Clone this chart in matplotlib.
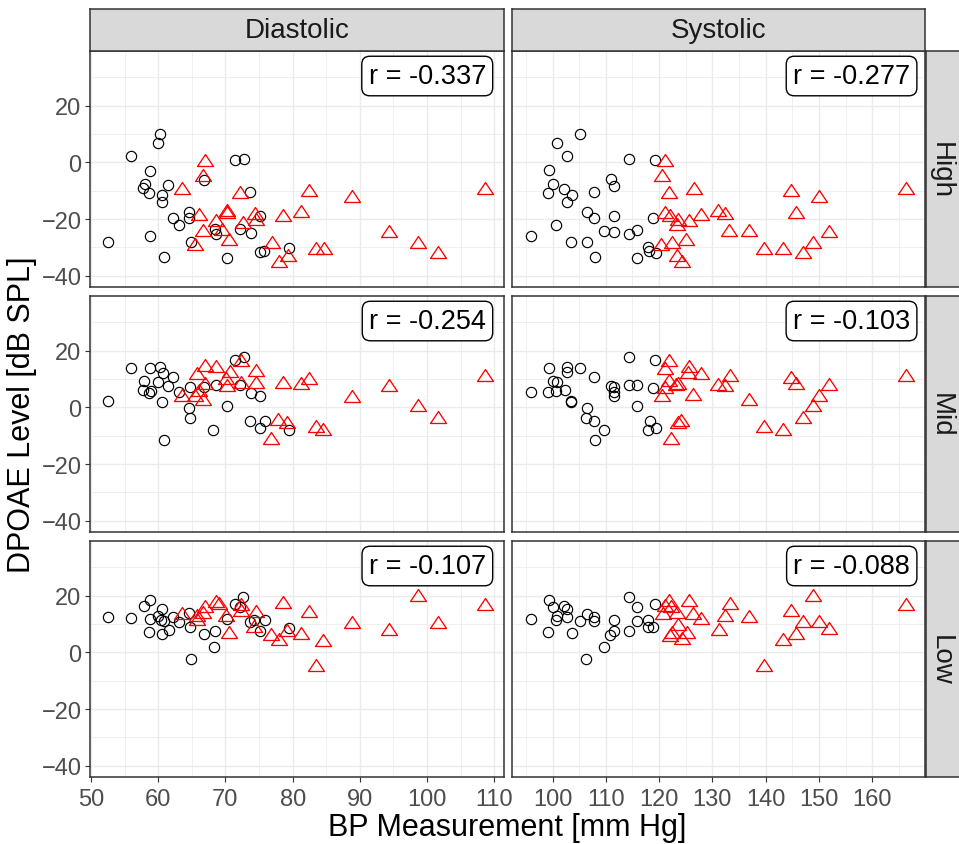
import matplotlib
matplotlib.use('Agg')
import matplotlib.pyplot as plt
from matplotlib.ticker import MultipleLocator
from matplotlib.path import Path

plt.rcParams['font.family'] = ['Liberation Sans', 'DejaVu Sans']

# ---------------- data ----------------
columns = ['Diastolic', 'Systolic']
rows = ['High', 'Mid', 'Low']
r_diastolic = [-0.337, -0.254, -0.107]
r_systolic = [-0.277, -0.103, -0.088]

# Diastolic / High
dia_high_norm_x = [52.5, 55.9, 60.2, 59.9, 58.8, 58.0, 57.8, 58.7, 61.5, 60.6, 60.6, 58.8, 60.9, 62.2, 63.1,
                   64.6, 64.6, 64.9, 66.8, 71.5, 72.7, 73.6, 75.1, 72.2, 73.8, 68.4, 68.6, 70.3, 75.1, 75.8, 79.5]
dia_high_norm_y = [-28.2, 2.1, 9.9, 6.7, -3.1, -7.6, -9.2, -10.8, -8.0, -11.5, -14.1, -25.9, -33.5, -19.6, -22.0,
                   -17.4, -19.8, -28.2, -6.2, 0.8, 1.2, -10.4, -18.8, -23.5, -24.9, -23.5, -25.3, -33.9, -31.8, -31.2, -30.1]
dia_high_hyp_x = [66.9, 66.6, 63.5, 72.2, 82.4, 88.9, 108.6, 66.0, 70.2, 70.2, 68.6, 66.6, 65.5, 70.6, 72.6,
                  74.4, 74.6, 78.6, 81.2, 77.0, 78.0, 79.3, 83.5, 84.7, 94.3, 98.6, 101.6, 69.5]
dia_high_hyp_y = [0.0, -5.3, -9.8, -11.2, -10.6, -12.6, -9.8, -19.1, -17.6, -18.4, -20.9, -24.5, -29.6, -27.6, -21.8,
                  -18.5, -20.6, -19.4, -17.9, -28.8, -35.6, -33.5, -30.9, -30.9, -25.1, -28.8, -32.4, -24.1]

# Systolic / High
sys_high_norm_x = [95.9, 100.8, 105.2, 102.8, 99.3, 100.0, 99.1, 102.2, 103.6, 102.8, 100.7, 103.4, 106.4, 108.0, 106.4, 107.8,
                   107.8, 110.9, 111.6, 111.6, 109.6, 111.6, 114.4, 115.9, 114.3, 119.3, 118.9, 115.8, 117.9, 118.2, 119.4]
sys_high_norm_y = [-25.9, 6.7, 9.9, 2.1, -2.7, -7.6, -10.8, -9.4, -11.5, -14.1, -22.0, -28.2, -28.2, -33.5, -17.6, -19.8,
                   -10.4, -5.9, -8.2, -18.8, -24.1, -24.7, -25.3, -23.8, 1.2, 0.8, -19.8, -33.9, -30.0, -31.4, -32.0]
sys_high_hyp_x = [121.1, 120.5, 121.9, 126.6, 121.1, 122.1, 123.6, 123.3, 125.7, 127.9, 131.0, 132.3, 133.2, 136.8,
                  125.1, 122.4, 120.4, 123.3, 124.3, 139.7, 143.3, 147.1, 148.9, 151.9, 144.7, 150.0, 145.6, 166.3]
sys_high_hyp_y = [0.0, -5.1, -11.2, -9.8, -18.2, -19.4, -20.6, -22.4, -20.9, -18.8, -17.6, -18.5, -24.5, -24.5,
                  -27.6, -28.8, -29.4, -33.5, -35.6, -30.9, -30.9, -32.4, -28.8, -25.1, -10.6, -12.6, -18.2, -9.8]

# Diastolic / Mid
dia_mid_norm_x = [52.5, 55.9, 58.8, 60.2, 60.7, 62.2, 57.9, 59.9, 61.5, 57.8, 58.7, 58.9, 63.1, 64.8, 66.8, 68.6,
                  72.2, 71.5, 72.7, 73.8, 75.2, 60.6, 64.6, 64.8, 70.2, 68.2, 60.9, 73.6, 75.9, 75.1, 79.5]
dia_mid_norm_y = [2.1, 13.9, 13.9, 14.1, 12.1, 10.8, 9.2, 8.8, 7.4, 6.1, 5.1, 5.6, 5.5, 7.1, 7.1, 8.0,
                  7.9, 16.8, 17.9, 5.1, 3.9, 2.0, -0.2, -3.8, 0.6, -8.0, -11.4, -4.7, -4.7, -7.3, -7.9]
dia_mid_hyp_x = [72.3, 66.9, 68.6, 65.8, 70.7, 74.5, 70.1, 66.9, 70.2, 74.6, 72.3, 78.6, 81.2, 82.5,
                 63.5, 65.5, 66.6, 66.1, 88.9, 94.3, 98.6, 101.6, 108.6, 77.8, 79.2, 83.5, 84.5, 76.8]
dia_mid_hyp_y = [15.9, 14.1, 13.9, 11.5, 12.0, 12.4, 9.6, 8.0, 7.1, 8.2, 8.2, 8.2, 8.0, 9.8,
                 3.5, 3.8, 2.1, 5.5, 3.3, 7.3, 0.0, -4.1, 10.8, -4.9, -5.9, -7.3, -8.2, -11.5]

# Systolic / Mid
sys_mid_norm_x = [95.9, 99.3, 102.7, 102.8, 105.2, 107.8, 100.0, 100.9, 99.1, 100.6, 102.3, 103.4, 103.5, 106.4, 106.3, 107.8,
                  108.0, 109.7, 110.9, 111.6, 111.6, 111.6, 114.3, 114.4, 115.9, 115.8, 119.3, 118.9, 118.3, 117.9, 119.4]
sys_mid_norm_y = [5.3, 13.9, 14.4, 12.4, 13.9, 10.8, 9.2, 8.8, 5.3, 5.6, 6.1, 2.4, 1.8, -0.2, -3.8, -4.7,
                  -11.4, -8.0, 7.4, 7.3, 5.3, 4.1, 17.9, 7.9, 7.9, 0.6, 16.8, 6.7, -4.7, -7.9, -7.3]
sys_mid_hyp_x = [121.9, 121.1, 125.7, 125.5, 127.9, 133.3, 121.9, 123.6, 121.1, 120.5, 123.2, 126.4, 131.0, 132.3,
                 136.8, 124.1, 123.6, 122.3, 139.7, 143.3, 147.1, 148.9, 150.1, 151.9, 144.7, 145.6, 166.3]
sys_mid_hyp_y = [15.9, 13.2, 13.9, 11.8, 11.4, 10.6, 8.8, 8.0, 6.5, 3.5, 7.6, 4.1, 7.6, 7.1,
                 2.1, -5.1, -5.9, -11.5, -7.3, -8.2, -4.1, 0.0, 3.5, 7.6, 10.0, 8.0, 10.8]

# Diastolic / Low
dia_low_norm_x = [52.5, 55.9, 58.8, 57.9, 60.6, 59.9, 58.8, 60.4, 60.9, 62.2, 63.1, 64.6, 64.8, 58.7, 60.6,
                  61.6, 66.8, 68.5, 68.3, 64.9, 70.2, 71.5, 72.6, 72.2, 73.6, 74.3, 75.9, 75.1, 79.5]
dia_low_norm_y = [12.6, 12.1, 18.6, 16.5, 15.3, 12.9, 11.8, 11.4, 11.2, 12.4, 10.6, 13.8, 8.8, 7.1, 6.5,
                  7.9, 6.5, 7.4, 1.8, -2.4, 11.8, 17.1, 19.6, 16.1, 10.6, 11.4, 11.4, 7.4, 8.6]
dia_low_hyp_x = [63.5, 65.8, 66.9, 66.7, 65.8, 68.6, 69.1, 70.1, 70.5, 72.3, 72.3, 74.6, 74.3, 76.8,
                 78.0, 79.2, 78.5, 81.2, 82.5, 84.5, 83.5, 88.9, 94.3, 98.6, 101.6, 108.6]
dia_low_hyp_y = [13.3, 12.4, 15.6, 13.5, 11.2, 17.4, 16.7, 12.6, 6.5, 16.5, 14.1, 13.8, 8.5, 5.9,
                 4.1, 7.1, 17.1, 6.1, 13.9, 3.5, -5.3, 10.0, 7.6, 19.4, 10.0, 16.5]

# Systolic / Low
sys_low_norm_x = [95.9, 99.3, 100.0, 102.2, 102.7, 100.6, 100.8, 102.8, 105.2, 106.4, 107.7, 107.8, 99.1, 103.6,
                  106.3, 109.6, 110.8, 111.6, 111.6, 114.3, 114.4, 115.8, 115.9, 119.3, 117.9, 118.9, 117.9]
sys_low_norm_y = [11.8, 18.5, 16.1, 16.5, 15.3, 11.4, 12.9, 12.6, 11.2, 13.5, 12.4, 10.9, 7.1, 6.7,
                  -2.4, 1.8, 6.2, 7.6, 11.4, 19.6, 7.4, 16.1, 11.2, 17.1, 8.8, 8.8, 11.4]
sys_low_hyp_x = [121.8, 121.1, 122.2, 120.8, 123.3, 125.7, 126.3, 127.9, 123.6, 122.4, 125.2, 122.1, 124.3,
                 131.3, 132.3, 133.3, 136.8, 139.7, 143.3, 144.7, 145.6, 147.1, 148.9, 150.0, 151.9, 166.3]
sys_low_hyp_y = [17.6, 16.1, 15.6, 13.2, 13.5, 17.6, 13.2, 11.4, 9.4, 6.5, 6.5, 5.5, 4.4,
                 7.6, 12.6, 16.7, 12.0, -5.3, 3.9, 14.1, 6.2, 10.2, 19.6, 10.2, 7.9, 16.5]

panel_data = {
    ('High', 'Diastolic'): (dia_high_norm_x, dia_high_norm_y, dia_high_hyp_x, dia_high_hyp_y),
    ('High', 'Systolic'): (sys_high_norm_x, sys_high_norm_y, sys_high_hyp_x, sys_high_hyp_y),
    ('Mid', 'Diastolic'): (dia_mid_norm_x, dia_mid_norm_y, dia_mid_hyp_x, dia_mid_hyp_y),
    ('Mid', 'Systolic'): (sys_mid_norm_x, sys_mid_norm_y, sys_mid_hyp_x, sys_mid_hyp_y),
    ('Low', 'Diastolic'): (dia_low_norm_x, dia_low_norm_y, dia_low_hyp_x, dia_low_hyp_y),
    ('Low', 'Systolic'): (sys_low_norm_x, sys_low_norm_y, sys_low_hyp_x, sys_low_hyp_y),
}
r_values = {'Diastolic': r_diastolic, 'Systolic': r_systolic}

# ---------------- layout ----------------
W, H = 959, 845
fig = plt.figure(figsize=(W / 100, H / 100), dpi=100)

col_px = {'Diastolic': (90.3, 503.7), 'Systolic': (512.0, 925.0)}
row_px = {'High': (51.7, 288.3), 'Mid': (296.7, 533.3), 'Low': (541.7, 778.3)}
xlims = {'Diastolic': (49.9, 111.4), 'Systolic': (92.4, 169.9)}
xmajor = {'Diastolic': 10, 'Systolic': 10}
ylim = (-44.1, 39.4)

border_col = '#333333'
grid_col = '#EBEBEB'
strip_fill = '#D9D9D9'
tick_col = '#4D4D4D'

tri_path = Path([(-1, -0.5), (1, -0.5), (0, 1.0), (-1, -0.5)],
                [Path.MOVETO, Path.LINETO, Path.LINETO, Path.CLOSEPOLY])


def frac_box(x0, x1, y0, y1):
    return [x0 / W, 1 - y1 / H, (x1 - x0) / W, (y1 - y0) / H]


for ri, row in enumerate(rows):
    for ci, col in enumerate(columns):
        x0, x1 = col_px[col]
        y0, y1 = row_px[row]
        ax = fig.add_axes(frac_box(x0, x1, y0, y1))
        ax.set_facecolor('white')
        ax.set_xlim(*xlims[col])
        ax.set_ylim(*ylim)
        ax.xaxis.set_major_locator(MultipleLocator(xmajor[col]))
        ax.xaxis.set_minor_locator(MultipleLocator(xmajor[col] / 2))
        ax.yaxis.set_major_locator(MultipleLocator(20))
        ax.yaxis.set_minor_locator(MultipleLocator(10))
        ax.set_axisbelow(True)
        ax.grid(which='major', color=grid_col, lw=1.0)
        ax.grid(which='minor', color=grid_col, lw=0.55)
        for sp in ax.spines.values():
            sp.set_color(border_col)
            sp.set_linewidth(1.1)
        ax.tick_params(which='minor', length=0)
        ax.tick_params(which='major', length=3.4, width=0.8, color=border_col,
                       labelsize=17, labelcolor=tick_col)
        ax.tick_params(axis='y', pad=3)
        ax.tick_params(axis='x', pad=4.5)
        if ci != 0:
            ax.tick_params(axis='y', left=False, labelleft=False)
        if ri != len(rows) - 1:
            ax.tick_params(axis='x', bottom=False, labelbottom=False)
        ax.set_yticks([-40, -20, 0, 20])

        nx, ny, hx, hy = panel_data[(row, col)]
        ax.plot(nx, ny, linestyle='none', marker='o', markersize=7.4,
                markerfacecolor='none', markeredgecolor='black', markeredgewidth=0.85, zorder=3)
        ax.plot(hx, hy, linestyle='none', marker=tri_path, markersize=11.5,
                markerfacecolor='none', markeredgecolor='#FF0000', markeredgewidth=0.95, zorder=3)

        xf = 0.957 if col == 'Diastolic' else 0.964
        ax.text(xf, 0.893, f"r = {r_values[col][ri]:.3f}", transform=ax.transAxes,
                ha='right', va='center', fontsize=19.5, color='black', zorder=5,
                bbox=dict(boxstyle='round,pad=0.25,rounding_size=0.3', fc='white',
                          ec='black', lw=1.0))

# top strips
for col in columns:
    x0, x1 = col_px[col]
    sax = fig.add_axes(frac_box(x0, x1, 10.0, 51.7))
    sax.set_facecolor(strip_fill)
    sax.set_xticks([])
    sax.set_yticks([])
    for sp in sax.spines.values():
        sp.set_color(border_col)
        sp.set_linewidth(1.1)
    sax.text(0.5, 0.5, col, transform=sax.transAxes, ha='center', va='center',
             fontsize=20, color='#1A1A1A')

# right strips
for row in rows:
    y0, y1 = row_px[row]
    sax = fig.add_axes(frac_box(925.5, 975.0, y0, y1))
    sax.set_facecolor(strip_fill)
    sax.set_xticks([])
    sax.set_yticks([])
    for sp in sax.spines.values():
        sp.set_color(border_col)
        sp.set_linewidth(1.1)
    fig.text(941 / W, 1 - (y0 + y1) / 2 / H, row, rotation=-90, ha='center', va='center',
             fontsize=20, color='#1A1A1A')

# axis titles
fig.text(507.5 / W, 1 - 828 / H, 'BP Measurement [mm Hg]', ha='center', va='center',
         fontsize=22, color='black')
fig.text(22 / W, 1 - 415 / H, 'DPOAE Level [dB SPL]', ha='center', va='center',
         rotation=90, fontsize=22, color='black')

fig.savefig('out.png', dpi=100)
